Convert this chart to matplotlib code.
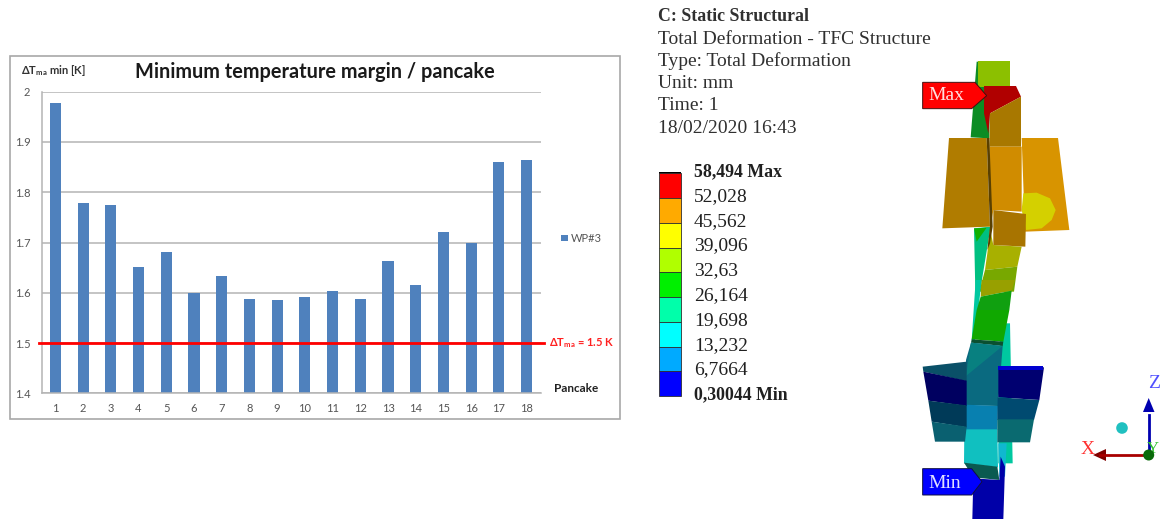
import matplotlib
matplotlib.use("Agg")
import matplotlib.pyplot as plt
from matplotlib.patches import Circle, Polygon, Rectangle

plt.rcParams['font.family'] = ['Lato', 'DejaVu Sans']
plt.rcParams['mathtext.fontset'] = 'custom'
plt.rcParams['mathtext.rm'] = 'Lato'
plt.rcParams['mathtext.bf'] = 'Lato:bold'

W, H = 1160, 519

# bar chart data
pancakes = list(range(1, 19))
margin = [1.978, 1.779, 1.774, 1.652, 1.682, 1.600, 1.633, 1.588, 1.586,
          1.592, 1.604, 1.587, 1.664, 1.615, 1.721, 1.700, 1.860, 1.865]
y_ticks = [1.4, 1.5, 1.6, 1.7, 1.8, 1.9, 2]
limit = 1.5

# simulation text and colour scale
header = ["C: Static Structural", "Total Deformation - TFC Structure",
          "Type: Total Deformation", "Unit: mm", "Time: 1", "18/02/2020 16:43"]
scale_labels = ["58,494 Max", "52,028", "45,562", "39,096", "32,63",
                "26,164", "19,698", "13,232", "6,7664", "0,30044 Min"]
scale_colors = ["#ff0000", "#ffaa00", "#ffff00", "#b0ff00", "#00f000",
                "#00ffaa", "#00ffff", "#00aaff", "#0000ff"]

upper_faces = [
    ("#0c8c24", [(182, 262), (200, 35), (240, 35), (238, 265)]),
    ("#8cc000", [(205, 33), (300, 33), (300, 110), (205, 110)]),
    ("#00c080", [(192, 535), (242, 530), (210, 725), (196, 725)]),
    ("#10b000", [(192, 535), (230, 533), (200, 575)]),
    ("#a8b000", [(240, 535), (250, 585), (335, 590), (322, 650), (225, 660), (232, 610)]),
    ("#78a800", [(225, 660), (322, 650), (312, 725), (208, 725)]),
    ("#b00000", [(222, 108), (318, 108), (333, 140), (240, 190), (235, 250), (222, 190)]),
    ("#a87800", [(240, 190), (333, 140), (333, 290), (238, 290)]),
    ("#b07c00", [(117, 264), (230, 264), (240, 530), (97, 535)]),
    ("#d89400", [(335, 264), (444, 264), (478, 540), (345, 545)]),
    ("#d4d000", [(340, 430), (380, 428), (420, 445), (437, 480), (425, 510),
                 (395, 535), (348, 540), (335, 480)]),
    ("#d08c00", [(238, 290), (335, 290), (335, 485), (250, 480), (242, 530)]),
    ("#5a4000", [(230, 264), (238, 264), (248, 530), (240, 580), (232, 600), (240, 530)]),
    ("#a87400", [(250, 480), (348, 492), (346, 590), (250, 585)]),
]
lower_faces = [
    ("#00c8a0", [(270, 130), (300, 130), (308, 550), (265, 550)]),
    ("#00c8a0", [(197, 0), (215, 0), (195, 180), (185, 180)]),
    ("#98a000", [(215, 0), (315, 0), (305, 32), (212, 50)]),
    ("#10a010", [(212, 50), (305, 32), (298, 90), (200, 90)]),
    ("#10a800", [(200, 90), (298, 90), (280, 185), (185, 178)]),
    ("#0a5030", [(185, 178), (280, 185), (278, 198), (183, 188)]),
    ("#0a6a80", [(183, 188), (278, 198), (264, 378), (166, 376), (168, 240)]),
    ("#088080", [(183, 188), (278, 198), (168, 288)]),
    ("#0880b0", [(166, 374), (264, 378), (262, 450), (163, 450)]),
    ("#10c0c0", [(163, 448), (262, 448), (264, 562), (162, 550)]),
    ("#0a5068", [(38, 260), (170, 245), (170, 304), (40, 275)]),
    ("#000060", [(40, 275), (170, 302), (170, 378), (55, 362)]),
    ("#003a58", [(55, 362), (170, 376), (170, 442), (65, 425)]),
    ("#0a6070", [(65, 425), (170, 440), (165, 485), (75, 485)]),
    ("#000070", [(265, 262), (402, 262), (388, 360), (265, 352)]),
    ("#004a70", [(263, 352), (388, 360), (372, 420), (262, 420)]),
    ("#0a6a70", [(262, 418), (372, 418), (360, 487), (262, 487)]),
    ("#0000d0", [(265, 257), (400, 257), (400, 270), (265, 270)]),
    ("#10b8d0", [(265, 490), (290, 490), (285, 590), (268, 590)]),
    ("#0a5a50", [(162, 548), (262, 560), (268, 600), (190, 592)]),
    ("#0000a8", [(190, 595), (268, 600), (272, 530), (285, 560), (280, 717), (187, 717)]),
]


def upper(points):
    return [(910 + x / 3, 50 + y / 3) for x, y in points]


def lower(points):
    return [(910 + x / 3, 280 + y / 3) for x, y in points]


fig = plt.figure(figsize=(W / 100, H / 100), dpi=100)

# whole figure in pixels, y down, for everything outside the bar chart
bg = fig.add_axes([0, 0, 1, 1])
bg.set_xlim(0, W)
bg.set_ylim(H, 0)
bg.axis('off')

bg.add_patch(Rectangle((10, 56), 610, 363, fc='white', ec='#a8a8a8', lw=1.2))

# bar chart
ax = fig.add_axes([41.5 / W, 1 - 393.3 / H, 499 / W, 301.6 / H])
ax.patch.set_alpha(0)
ax.bar(pancakes, margin, width=0.4, color='#4f81bd', zorder=2)
ax.set_xlim(0.5, 18.5)
ax.set_ylim(1.4, 2)
ax.set_xticks(pancakes)
ax.set_yticks(y_ticks)
ax.set_yticklabels([str(v) for v in y_ticks])
ax.tick_params(length=0, labelsize=8, labelcolor='#555555', pad=7)
ax.tick_params(axis='y', pad=8)
ax.grid(axis='y', color='#b4b4b4', lw=1.1, zorder=1)
ax.set_axisbelow(True)
for side in ['top', 'right']:
    ax.spines[side].set_visible(False)
for side in ['left', 'bottom']:
    ax.spines[side].set_color('#b4b4b4')
    ax.spines[side].set_linewidth(1.1)
ax.plot([-0.005, 1.007], [limit, limit], color='#ff0000', lw=2.0,
        transform=ax.get_yaxis_transform(), clip_on=False, zorder=3)

bg.text(314.5, 72, "Minimum temperature margin / pancake", fontsize=14.3, fontweight='bold',
        color='#1a1a1a', ha='center', va='center')
bg.text(21, 70, r"$\mathbf{\Delta T_{ma}}$ min [K]", fontsize=8, fontweight='bold',
        color='#333333', va='center')
bg.add_patch(Rectangle((561, 234.5), 7, 6.5, fc='#4f81bd', ec='none'))
bg.text(571, 238, "WP#3", fontsize=8, color='#555555', va='center')
bg.text(549, 343, r"$\mathbf{\Delta T_{ma}}$ = 1.5 K", fontsize=8, fontweight='bold',
        color='#ff2020', va='center')
bg.text(554, 388, "Pancake", fontsize=8.5, fontweight='bold', color='#222222', va='center')

# simulation header
for i, line in enumerate(header):
    bg.text(658, 16.7 + i * 22.3, line, family='Liberation Serif',
            fontsize=12.8 if i == 0 else 14,
            fontweight='bold' if i == 0 else 'normal', color='#303030', va='center')

# colour scale
bar_top = 173.3
step = 24.75
bg.add_patch(Rectangle((658.5, 171.5), 22, 2, fc='black', ec='none'))
for i, col in enumerate(scale_colors):
    bg.add_patch(Rectangle((658.5, bar_top + i * step), 22, step, fc=col, ec='#303030', lw=0.6))
for i, label in enumerate(scale_labels):
    bold = i == 0 or i == len(scale_labels) - 1
    bg.text(694, 171.5 + i * 24.8, label, family='Liberation Serif',
            fontsize=12.8 if bold else 14,
            fontweight='bold' if bold else 'normal', color='#202020', va='center')

# 3D model
for col, pts in upper_faces:
    bg.add_patch(Polygon(upper(pts), fc=col, ec='none'))
for col, pts in lower_faces:
    bg.add_patch(Polygon(lower(pts), fc=col, ec='none'))

# probes
bg.add_patch(Polygon(upper([(38, 97), (195, 97), (230, 137), (185, 176), (38, 176)]),
                     fc='#ff0000', ec='#401010', lw=0.7))
bg.text(928, 96, "Max", fontsize=14, family='Liberation Serif', color='#ffe0e0', va='center')
bg.add_patch(Polygon(lower([(38, 566), (185, 566), (216, 605), (185, 645), (38, 645)]),
                     fc='#0000ff', ec='#101040', lw=0.7))
bg.text(928, 483, "Min", fontsize=14, family='Liberation Serif', color='#e0e0ff', va='center')

# axis triad
bg.plot([1148.7, 1148.7], [450, 415], color='#0000b0', lw=2)
bg.add_patch(Polygon([(1143, 412), (1154.5, 412), (1148.7, 398)], fc='#0000b0', ec='none'))
bg.plot([1148.7, 1100], [455, 455], color='#a80000', lw=2)
bg.add_patch(Polygon([(1106, 449), (1106, 461), (1093, 455)], fc='#800000', ec='none'))
bg.add_patch(Circle((1148.7, 455), 5.5, fc='#0a6a0a', ec='none', zorder=4))
bg.add_patch(Circle((1122, 428), 5.8, fc='#20c0c0', ec='none'))
bg.text(1154, 383, "Z", fontsize=14, family='Liberation Serif', color='#5050ff', va='center', ha='center')
bg.text(1088, 449, "X", fontsize=14, family='Liberation Serif', color='#ff3030', va='center', ha='center')
bg.text(1159, 449, "Y", fontsize=12, family='Liberation Serif', color='#30c030', va='center', ha='right')

fig.savefig("out.png", dpi=100)
